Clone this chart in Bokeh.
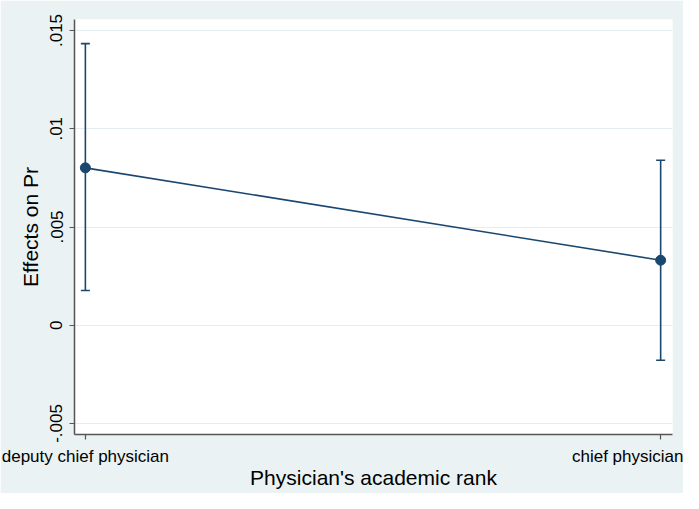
from bokeh.plotting import figure
from bokeh.models import Range1d, FixedTicker, ColumnDataSource, Whisker, TeeHead
from bokeh.embed import file_html
from bokeh.resources import INLINE

categories = ["deputy chief physician", "chief physician"]
effects = [0.00801, 0.00331]
ci_lower = [0.00177, -0.00178]
ci_upper = [0.01433, 0.00840]
y_ticks = [-0.005, 0.0, 0.005, 0.01, 0.015]
y_tick_labels = ["-.005", "0", ".005", ".01", ".015"]

xs = list(range(len(categories)))
NAVY = "#1a476f"
BG = "#eaf2f3"
FONT = "Liberation Sans"

p = figure(width=683, height=493, output_backend="svg", toolbar_location=None,
           x_range=Range1d(-0.0189, 1.0206), y_range=Range1d(-0.00556, 0.01556))
p.min_border_left = 74
p.min_border_right = 11
p.min_border_top = 19
p.min_border_bottom = 59
p.border_fill_color = BG
p.background_fill_color = "white"
p.outline_line_color = None

src = ColumnDataSource(dict(x=xs, y=effects, lo=ci_lower, hi=ci_upper))
p.add_layout(Whisker(base="x", lower="lo", upper="hi", source=src, dimension="height",
                     line_color=NAVY, line_width=1.6,
                     lower_head=TeeHead(size=9, line_color=NAVY, line_width=1.6),
                     upper_head=TeeHead(size=9, line_color=NAVY, line_width=1.6)))
p.line(x="x", y="y", source=src, line_color=NAVY, line_width=1.6)
p.scatter(x="x", y="y", source=src, size=10, fill_color=NAVY, line_color=NAVY)

p.xaxis.ticker = FixedTicker(ticks=xs)
p.xaxis.major_label_overrides = {i: c for i, c in zip(xs, categories)}
p.yaxis.ticker = FixedTicker(ticks=y_ticks)
p.yaxis.major_label_overrides = {t: l for t, l in zip(y_ticks, y_tick_labels)}
p.yaxis.major_label_orientation = "vertical"

for ax in (p.xaxis, p.yaxis):
    ax.axis_line_color = "#555555"
    ax.axis_line_width = 1.5
    ax.major_tick_line_color = "#555555"
    ax.major_tick_line_width = 1.2
    ax.major_tick_out = 5
    ax.major_tick_in = 0
    ax.minor_tick_line_color = None
    ax.major_label_text_font = FONT
    ax.major_label_text_color = "black"
    ax.axis_label_text_font = FONT
    ax.axis_label_text_font_style = "normal"
    ax.axis_label_text_color = "black"
    ax.axis_label_text_font_size = "21px"

p.xaxis.major_label_text_font_size = "17px"
p.yaxis.major_label_text_font_size = "17px"
p.xaxis.axis_label = "Physician's academic rank"
p.yaxis.axis_label = "Effects on Pr"
p.xaxis.major_label_standoff = 7
p.xaxis.axis_label_standoff = -3
p.yaxis.major_label_standoff = 7
p.yaxis.axis_label_standoff = 6

p.xgrid.grid_line_color = None
p.ygrid.grid_line_color = "#e4eef0"
p.ygrid.grid_line_width = 1.2

open("out.html", "w").write(file_html(p, INLINE))
